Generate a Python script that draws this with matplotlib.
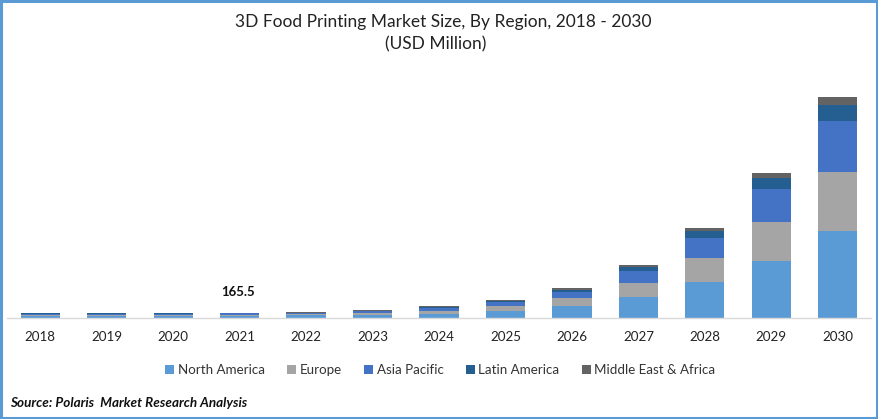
import matplotlib.pyplot as plt
from matplotlib.patches import Rectangle

plt.rcParams["font.family"] = ["Lato", "DejaVu Sans"]

years = ["2018", "2019", "2020", "2021", "2022", "2023", "2024", "2025", "2026", "2027", "2028", "2029", "2030"]

# USD million
north_america = [72, 72, 73, 74, 81, 109, 125, 218, 374, 655, 1123, 1778, 2714]
europe = [28, 28, 29, 30, 47, 62, 109, 156, 250, 437, 749, 1217, 1841]
asia_pacific = [37, 37, 37, 38, 31, 41, 78, 125, 187, 374, 624, 1030, 1591]
latin_america = [12, 12, 12, 12, 12, 19, 31, 31, 62, 125, 218, 343, 499]
middle_east_africa = [12, 12, 12, 12, 16, 19, 31, 31, 62, 62, 94, 156, 250]

series = [
    ("North America", north_america, "#5B9BD5"),
    ("Europe", europe, "#A5A5A5"),
    ("Asia Pacific", asia_pacific, "#4472C4"),
    ("Latin America", latin_america, "#255E91"),
    ("Middle East & Africa", middle_east_africa, "#636363"),
]

W, H = 879, 419
fig = plt.figure(figsize=(W / 100, H / 100), dpi=100)
ax = fig.add_axes([7 / W, (H - 318) / H, 864 / W, 258 / H])

bottom = [0] * len(years)
for name, values, color in series:
    ax.bar(years, values, width=0.59, bottom=bottom, color=color, label=name)
    bottom = [b + v for b, v in zip(bottom, values)]

ax.set_xlim(-0.5, 12.5)
ax.set_ylim(0, 8050)
ax.yaxis.set_visible(False)
for side in ["top", "left", "right"]:
    ax.spines[side].set_visible(False)
ax.spines["bottom"].set_color("#D9D9D9")
ax.spines["bottom"].set_linewidth(1)
ax.tick_params(axis="x", length=0, pad=9, labelsize=9.6, labelcolor="#222222")

ax.annotate("165.5", (3, 165.5), xytext=(-1.5, 10.5), textcoords="offset points",
            ha="center", va="bottom", fontsize=9.5, fontweight="bold", color="#111111")

fig.text(443 / W, 1 - 22 / H, "3D Food Printing Market Size, By Region, 2018 - 2030",
         ha="center", va="center", fontsize=12.5, color="#222222")
fig.text(436 / W, 1 - 44 / H, "(USD Million)", ha="center", va="center", fontsize=12.5, color="#222222")

fig.legend(loc="center", bbox_to_anchor=(440.5 / W, 1 - 370 / H), ncol=5, frameon=False,
           fontsize=9.6, handlelength=0.67, handleheight=0.67, handletextpad=0.25,
           columnspacing=1.7, labelcolor="#333333")

fig.text(10 / W, 1 - 403 / H, "Source: Polaris  Market Research Analysis",
         ha="left", va="center", fontsize=9.7, fontweight="bold", style="italic", color="#111111")

# blue frame around the picture
fig.add_artist(Rectangle((1.5 / W, 1.5 / H), (W - 3) / W, (H - 3) / H, transform=fig.transFigure,
                         fill=False, edgecolor="#5B9BD5", linewidth=2.2))

fig.savefig("out.png", dpi=100)
